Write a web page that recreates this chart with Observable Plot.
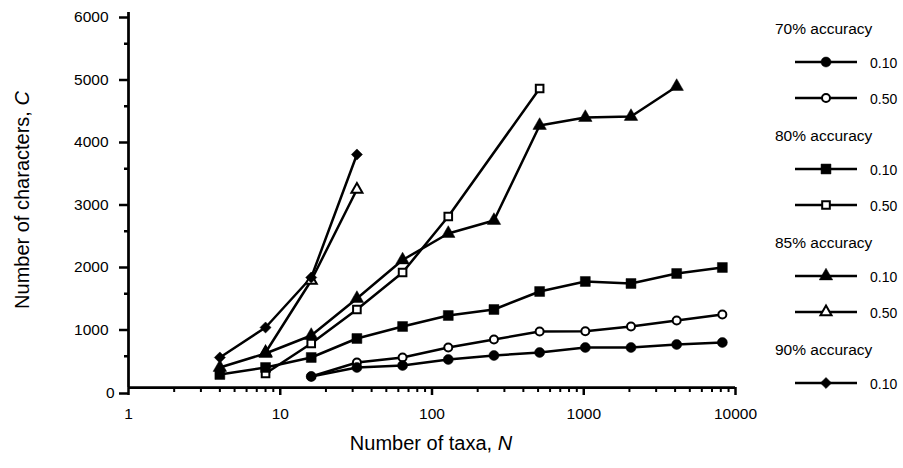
<!DOCTYPE html>
<html><head><meta charset="utf-8">
<script src="https://cdn.jsdelivr.net/npm/d3@7"></script>
<script src="https://cdn.jsdelivr.net/npm/@observablehq/plot@0.6"></script>
<style>
html,body{margin:0;padding:0;background:#fff;}
#chart{position:relative;width:903px;height:468px;}
#chart svg{font-family:"Liberation Sans",Arial,Helvetica,sans-serif;background:#fff;}
</style></head><body><div id="chart"></div>
<script>
// ---- data ----
const taxa70 = [16, 32, 64, 128, 256, 512, 1024, 2048, 4096, 8192];
const chars70_010 = [176, 320, 352, 448, 512, 560, 640, 640, 688, 720];
const chars70_050 = [176, 400, 480, 640, 768, 896, 900, 976, 1072, 1168];

const taxa80_010 = [4, 8, 16, 32, 64, 128, 256, 512, 1024, 2048, 4096, 8192];
const chars80_010 = [208, 320, 480, 784, 976, 1152, 1248, 1536, 1696, 1664, 1824, 1920];
const taxa80_050 = [8, 16, 32, 64, 128, 512];
const chars80_050 = [224, 704, 1248, 1840, 2736, 4784];

const taxa85_010 = [4, 8, 16, 32, 64, 128, 256, 512, 1024, 2048, 4096];
const chars85_010 = [320, 544, 832, 1424, 2040, 2464, 2672, 4192, 4320, 4336, 4816];
const taxa85_050 = [8, 16, 32];
const chars85_050 = [560, 1712, 3168];

const taxa90_010 = [4, 8, 16, 32];
const chars90_010 = [480, 960, 1760, 3728];

const groups = ["70% accuracy", "80% accuracy", "85% accuracy", "90% accuracy"];
const rates = ["0.10", "0.50"];

const xMajorTicks = [1, 10, 100, 1000, 10000];
const xMinorTicks = [2,3,4,5,6,7,8,9,20,30,40,50,60,70,80,90,200,300,400,500,600,700,800,900,2000,3000,4000,5000,6000,7000,8000,9000];
const yMajorTicks = [1000, 2000, 3000, 4000, 5000, 6000];
const yZeroTick = [0];
const yMinorTicks = [500, 1500, 2500, 3500, 4500, 5500];

const series = [
  {group: groups[0], rate: rates[0], symbol: "circle",   open: false, r: 5,   x: taxa70,     y: chars70_010},
  {group: groups[0], rate: rates[1], symbol: "circle",   open: true,  r: 4,   x: taxa70,     y: chars70_050},
  {group: groups[1], rate: rates[0], symbol: "square",   open: false, r: 5.6, x: taxa80_010, y: chars80_010},
  {group: groups[1], rate: rates[1], symbol: "square",   open: true,  r: 4.3, x: taxa80_050, y: chars80_050},
  {group: groups[2], rate: rates[0], symbol: "triangle", open: false, r: 5,   x: taxa85_010, y: chars85_010},
  {group: groups[2], rate: rates[1], symbol: "triangle", open: true,  r: 4.1, x: taxa85_050, y: chars85_050},
  {group: groups[3], rate: rates[0], symbol: "diamond2", open: false, r: 5,   x: taxa90_010, y: chars90_010}
];
series.forEach(s => { s.key = s.group + " " + s.rate; s.rows = s.x.map((x, i) => ({taxa: x, chars: s.y[i], key: s.key})); });
const allRows = series.flatMap(s => s.rows);
// open markers underneath, filled markers on top (as in the reference)
const dotOrder = [...series.filter(s => s.open), ...series.filter(s => !s.open)];

const FONT = "Liberation Sans, Arial, Helvetica, sans-serif";

const plot = Plot.plot({
  width: 903, height: 468,
  marginLeft: 128, marginRight: 168, marginTop: 12, marginBottom: 81,
  style: {fontFamily: FONT, color: "black", background: "white"},
  x: {type: "log", domain: [1, 10000], label: null},
  y: {domain: [0, 6000], label: null},
  marks: [
    Plot.axisX(xMinorTicks, {tickSize: 5, strokeWidth: 2, tickFormat: () => "", label: null}),
    Plot.axisX(xMajorTicks, {tickSize: 8, strokeWidth: 2.5, tickPadding: 12, fontSize: 15.5, tickFormat: d => String(d), label: null}),
    Plot.axisY(yMinorTicks, {tickSize: 4, strokeWidth: 2.5, tickFormat: () => "", label: null}),
    Plot.axisY(yMajorTicks, {tickSize: 9, strokeWidth: 2.5, tickPadding: 11, fontSize: 15.5, dy: 5, tickFormat: d => String(d), label: null}),
    Plot.axisY(yZeroTick, {tickSize: 9, strokeWidth: 2.5, tickPadding: 5, fontSize: 15.5, dy: 6, tickFormat: d => String(d), label: null}),
    Plot.ruleY([0], {strokeWidth: 2.75}),
    Plot.ruleX([1], {strokeWidth: 2.75}),
    Plot.line(allRows, {x: "taxa", y: "chars", z: "key", stroke: "black", strokeWidth: 2.5}),
    ...dotOrder.map(s => Plot.dot(s.rows, {
      x: "taxa", y: "chars", symbol: s.symbol, r: s.r,
      fill: s.open ? "white" : "black", stroke: "black", strokeWidth: s.open ? 2 : 0.5
    }))
  ]
});
document.getElementById("chart").appendChild(plot);

// axis titles with italic variable letters
const svg = d3.select(plot);
const xt = svg.append("text").attr("x", 431).attr("y", 443).attr("text-anchor", "middle")
  .attr("dominant-baseline", "central").attr("font-size", 20).attr("font-family", FONT).attr("fill", "black");
xt.append("tspan").text("Number of taxa, ");
xt.append("tspan").attr("font-style", "italic").text("N");
const yt = svg.append("text").attr("transform", "translate(22,200) rotate(-90)").attr("text-anchor", "middle")
  .attr("dominant-baseline", "central").attr("font-size", 20).attr("font-family", FONT).attr("fill", "black");
yt.append("tspan").text("Number of characters, ");
yt.append("tspan").attr("font-style", "italic").text("C");

// legend
const leg = svg.append("g").attr("font-family", FONT).attr("fill", "black").attr("text-anchor", "start");
const headY = [28, 135, 242, 349];
groups.forEach((g, gi) => {
  leg.append("text").attr("x", 775).attr("y", headY[gi]).attr("dominant-baseline", "central")
    .attr("text-anchor", "start").attr("font-size", 15.5).text(g);
  series.filter(s => s.group === g).forEach((s, si) => {
    const yy = headY[gi] + (si === 0 ? 34 : 70);
    leg.append("line").attr("x1", 795).attr("x2", 857).attr("y1", yy).attr("y2", yy)
      .attr("stroke", "black").attr("stroke-width", 2.5);
    const sym = {circle: d3.symbolCircle, square: d3.symbolSquare, triangle: d3.symbolTriangle, diamond2: d3.symbolDiamond2}[s.symbol];
    leg.append("path").attr("transform", `translate(826,${yy})`)
      .attr("d", d3.symbol(sym, Math.PI * s.r * s.r)())
      .attr("fill", s.open ? "white" : "black").attr("stroke", "black").attr("stroke-width", s.open ? 2 : 0.5);
    leg.append("text").attr("x", 870).attr("y", yy + 1).attr("dominant-baseline", "central")
      .attr("text-anchor", "start").attr("font-size", 14).text(s.rate);
  });
});
</script></body></html>
